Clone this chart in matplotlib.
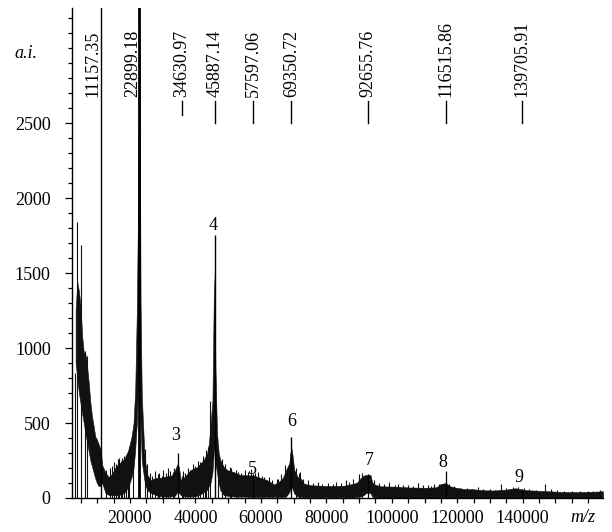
import matplotlib
matplotlib.use("Agg")
import matplotlib.pyplot as plt
import matplotlib.transforms as mtrans
from matplotlib.ticker import MultipleLocator, FixedLocator

# envelope of the dense noise band (m/z, lower, upper)
env_mz = [3400, 3900, 4400, 4900, 5400, 5900, 6400, 6900, 7400, 7900, 8400, 8900,
          9400, 9900, 10400, 10900, 11157, 11500, 12500, 13500, 14500, 15500, 16500,
          17500, 18500, 19500, 20500, 21100, 21600, 22100, 22500, 22899, 23250, 23600,
          23900, 24400, 24900, 25400, 26400, 27400, 28400, 29400, 30500, 31500, 32700,
          33700, 34200, 34631, 35000, 35500, 36700, 37500, 38500, 39800, 40550, 41550,
          42570, 43580, 44100, 44600, 45200, 45600, 45887, 46100, 46600, 47100, 47600,
          48650, 49650, 51700, 53700, 57750, 61800, 64100, 65600, 66700, 67700, 68700,
          69000, 69351, 69700, 70200, 71200, 72200, 73200, 75200, 80300, 85400, 88400,
          89500, 90500, 91500, 92100, 92656, 93500, 94000, 94500, 96500, 100600, 105600,
          110700, 113700, 114800, 116516, 117800, 119800, 121900, 125000, 128000, 131000,
          135000, 137700, 139000, 141000, 145000, 148000, 152300, 157300, 162000, 164500]
env_lo = [900, 800, 700, 630, 560, 500, 430, 370, 310, 250, 210, 170,
          130, 100, 80, 80, 90, 100, 35, 20, 20, 18, 20,
          25, 40, 75, 140, 200, 320, 500, 800, 1000, 500, 250,
          200, 120, 75, 50, 33, 25, 15, 12, 10, 10, 12,
          15, 30, 50, 35, 20, 10, 10, 10, 12, 15, 25,
          40, 55, 80, 100, 170, 300, 350, 233, 167, 100, 53,
          20, 15, 10, 10, 8, 8, 8, 8, 8, 10, 40,
          60, 76, 60, 30, 10, 8, 5, 5, 5, 5, 5,
          8, 10, 20, 33, 33, 33, 10, 5, 3, 3, 2,
          2, 2, 3, 5, 2, 2, 0, 0, 0, 0,
          0, 0, 0, 0, 0, 0, 0, 0, 0, 0]
env_hi = [1250, 1440, 1380, 1280, 1080, 970, 960, 880, 770, 640, 545, 480,
          410, 390, 360, 330, 300, 220, 170, 140, 160, 200, 230,
          240, 270, 320, 410, 500, 720, 1250, 2000, 3300, 1300, 700,
          540, 300, 200, 150, 120, 130, 135, 135, 140, 145, 150,
          180, 210, 230, 200, 120, 140, 160, 185, 200, 205, 230,
          255, 300, 360, 480, 650, 1320, 1500, 880, 433, 300, 253,
          207, 187, 173, 153, 150, 120, 90, 110, 133, 187, 233,
          300, 330, 280, 187, 140, 130, 95, 85, 80, 82, 95,
          105, 133, 150, 153, 155, 153, 105, 92, 78, 76, 70,
          68, 72, 92, 100, 78, 68, 60, 58, 52, 50,
          56, 65, 60, 52, 48, 45, 40, 40, 42, 45]

# isolated spikes standing out of the noise
spike_mz = [3200, 3900, 4900, 6300, 6900,
            12800, 13800, 14400, 15000, 15600, 16200, 16700, 17200, 17700, 18200,
            18700, 19300, 19800, 20800,
            24600, 25200, 26000, 26800, 27800, 28600, 29000, 29800, 30200, 31000,
            31500, 32200, 33000, 33400,
            35800, 36200, 36900, 37800, 38300, 39200, 39900, 40800, 41300, 42200,
            42800, 43100, 43800, 44600,
            47000, 48000, 49000, 50500, 51000, 52500, 53000, 54000, 55000, 56000,
            57000, 58200, 59200, 60300, 61000, 62500, 63500, 64800, 65300, 66000,
            67300,
            70800, 71700, 72000, 73000, 74500, 76000, 77500, 78800, 80500, 82000,
            83000, 84500, 86000, 87000, 88000, 89900, 90000, 91000,
            94500, 96000, 97500, 99000, 101000, 102000, 103500, 105000, 106500,
            108000, 109500, 111000, 112000, 113000, 114500, 117500, 119000,
            121000, 123000, 124500, 126400, 128000, 130000, 131500, 133300, 135000,
            137000, 138500, 140500, 142000, 144000, 146700, 148500, 150500, 152500,
            155000, 157500, 160000, 161500, 163500]
spike_hi = [833, 1842, 1687, 980, 950,
            190, 200, 215, 240, 230, 260, 270, 250, 265, 280,
            290, 300, 340, 430,
            330, 230, 170, 150, 180, 160, 165, 150, 190, 170,
            200, 180, 175, 200,
            150, 180, 170, 200, 190, 230, 215, 250, 240, 280,
            270, 320, 340, 650,
            330, 260, 230, 210, 200, 190, 175, 170, 185, 175,
            195, 165, 175, 150, 140, 140, 120, 125, 130, 160,
            220,
            200, 170, 175, 130, 120, 100, 105, 95, 100, 95,
            110, 100, 120, 110, 130, 160, 150, 165,
            120, 100, 95, 105, 90, 95, 85, 90, 80,
            100, 85, 85, 80, 95, 95, 95, 80,
            70, 65, 60, 76, 60, 60, 55, 93, 65,
            75, 75, 70, 60, 55, 93, 60, 55, 50,
            50, 45, 45, 50, 55]

# labelled peaks
peak_mz = [11157.35, 22899.18, 34630.97, 45887.14, 57597.06, 69350.72,
           92655.76, 116515.86, 139705.91]
peak_hi = [9000, 9000, 300, 1753, 160, 409, 160, 177, 60]
peak_labels = ["11157.35", "22899.18", "34630.97", "45887.14", "57597.06",
               "69350.72", "92655.76", "116515.86", "139705.91"]

# peak numbers 3..9
num_text = ["3", "4", "5", "6", "7", "8", "9"]
num_mz = [34070, 45370, 57290, 69510, 93030, 115640, 138860]
num_y = [420, 1820, 193, 507, 247, 240, 140]

plt.rcParams["font.family"] = ["Liberation Serif", "DejaVu Serif"]

fig = plt.figure(figsize=(6.12, 5.32), dpi=100)
ax = fig.add_axes([71.5 / 612, 34 / 532, (603 - 71.5) / 612, 490 / 532])

ink = "#111111"
ax.vlines(spike_mz, 0, spike_hi, color=ink, lw=0.8)
ax.fill_between(env_mz, env_lo, env_hi, color=ink, lw=0.4)
peak_lw = [1.0, 2.0, 0.9, 1.0, 0.8, 1.0, 0.9, 0.9, 0.8]
ax.vlines(peak_mz, 0, peak_hi, color="black", lw=peak_lw)

# rotated peak labels with small marker bars
label_dx = [-8, -7, 4, 0, 0, 0, 0, 0, 0]   # pixels
for i, (mz, txt) in enumerate(zip(peak_mz, peak_labels)):
    tr = ax.transData + mtrans.ScaledTranslation(label_dx[i] / 100, 0, fig.dpi_scale_trans)
    ax.text(mz, 2675, txt, rotation=90, ha="center", va="bottom",
            fontsize=13, transform=tr)
    if i >= 2:
        lo = 2553 if i == 2 else 2500
        ax.plot([mz, mz], [lo, 2650], color="black", lw=1.0, transform=tr)

for mz, y, t in zip(num_mz, num_y, num_text):
    ax.text(mz, y, t, ha="center", va="center", fontsize=13)

ax.set_xlim(2140, 164530)
ax.set_ylim(0, 3267)

ax.xaxis.set_major_locator(FixedLocator([20000, 40000, 60000, 80000, 100000, 120000, 140000]))
ax.xaxis.set_minor_locator(MultipleLocator(5000))
ax.yaxis.set_major_locator(FixedLocator([0, 500, 1000, 1500, 2000, 2500]))
ax.yaxis.set_minor_locator(MultipleLocator(100))

ax.tick_params(axis="x", which="both", direction="out", length=3.6, width=0.9,
               pad=5, labelsize=13)
ax.tick_params(axis="y", which="major", direction="out", length=5, width=0.9,
               pad=10, labelsize=13)
ax.tick_params(axis="y", which="minor", direction="out", length=3, width=0.9)

for s in ["top", "right"]:
    ax.spines[s].set_visible(False)
for s in ["left", "bottom"]:
    ax.spines[s].set_linewidth(1.0)

fig.text(26 / 612, 1 - 53 / 532, "a.i.", style="italic", fontsize=13,
         ha="center", va="center")
fig.text(583 / 612, 1 - 518 / 532, "m/z", style="italic", fontsize=13,
         ha="center", va="center")

fig.savefig("out.png", dpi=100)
